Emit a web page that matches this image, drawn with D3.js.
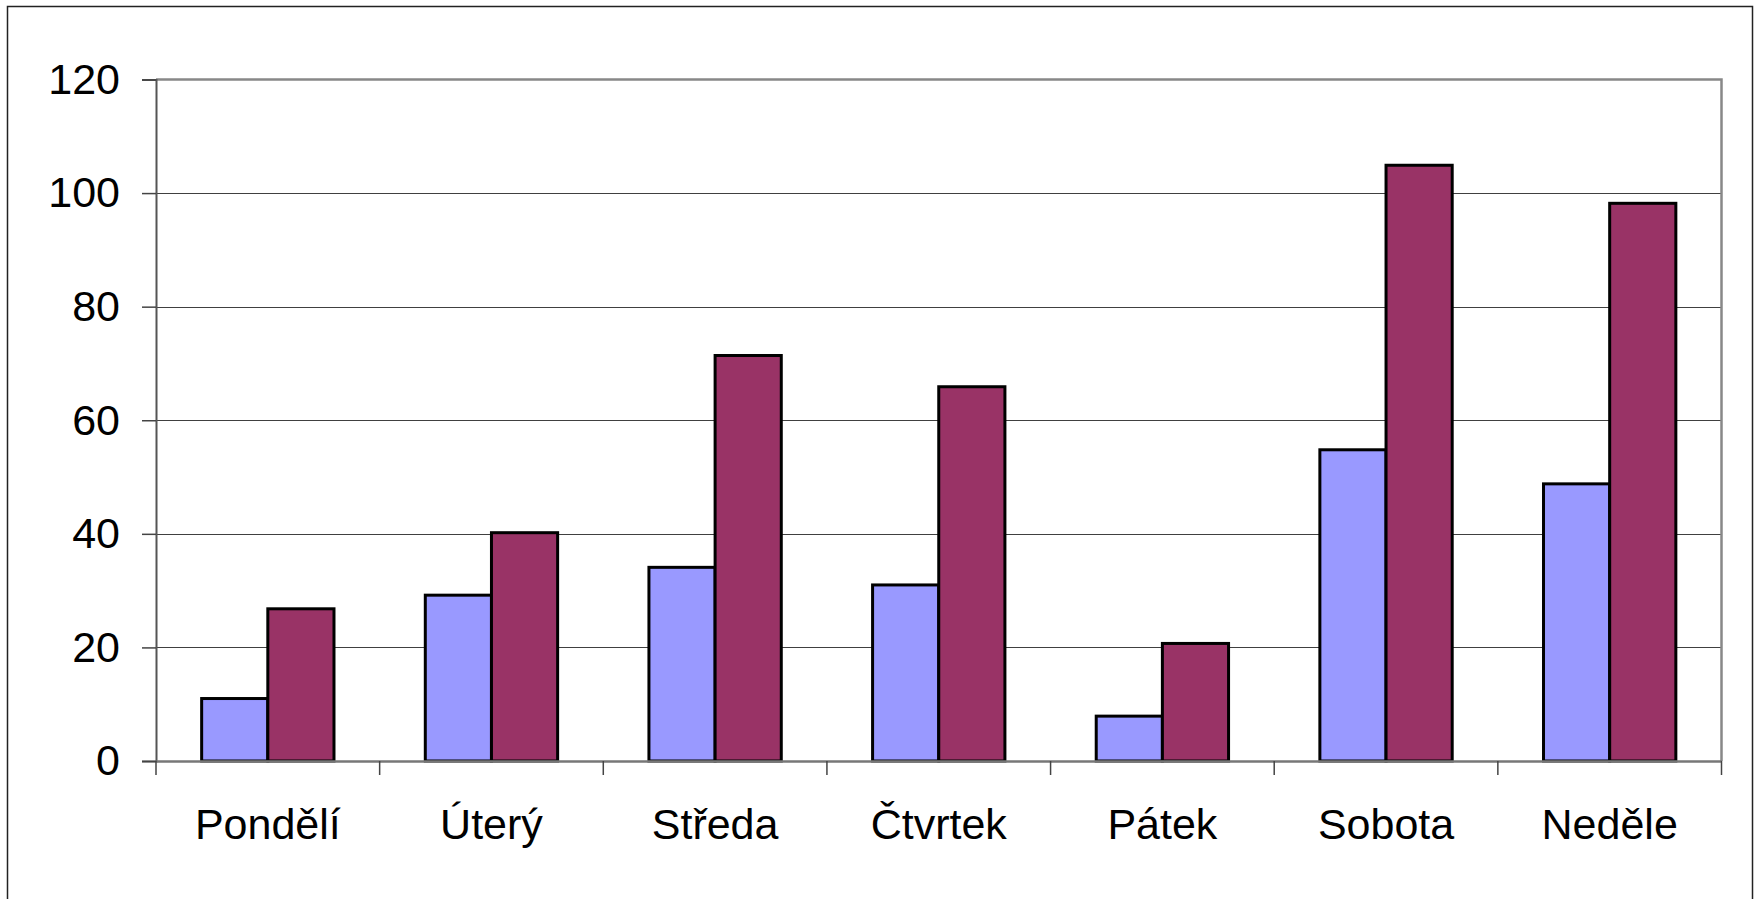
<!DOCTYPE html>
<html>
<head>
<meta charset="utf-8">
<script src="https://cdn.jsdelivr.net/npm/d3@7"></script>
<style>
  body { margin: 0; background: #fff; }
  text { font-family: "Liberation Sans", Arial, sans-serif; font-size: 43px; fill: #000; }
  .grid line { stroke: #404040; stroke-width: 1; }
  .bar { stroke: #000; stroke-width: 3; }
</style>
</head>
<body>
<svg id="chart"></svg>
<script>
var width = 1759,
    height = 899;

var days = ["Pondělí", "Úterý", "Středa", "Čtvrtek", "Pátek", "Sobota", "Neděle"];
var series1 = [11, 29.2, 34.1, 31, 7.9, 54.8, 48.8];
var series2 = [26.8, 40.2, 71.4, 65.9, 20.7, 104.9, 98.2];
var yTicks = [0, 20, 40, 60, 80, 100, 120];
var colors = ["#9999ff", "#993366"];

var plotLeft = 156, plotRight = 1721.5, plotTop = 79.5, plotBottom = 761;

var x = d3.scaleBand()
          .domain(days)
          .range([plotLeft, plotRight])
          .padding(0);

var xs = d3.scaleBand()
           .domain([0, 1])
           .range([0, x.bandwidth()])
           .paddingInner(0)
           .paddingOuter(0.69);

var y = d3.scaleLinear()
          .domain([0, 120])
          .range([plotBottom, plotTop]);

var chart = d3.select("#chart")
              .attr("width", width)
              .attr("height", height);

// outer frame (bottom edge runs off the picture)
chart.append("rect")
     .attr("x", 7.5).attr("y", 6.5)
     .attr("width", 1745).attr("height", 900)
     .attr("fill", "none")
     .attr("stroke", "#222")
     .attr("stroke-width", 1.5);

// gridlines
chart.append("g")
     .attr("class", "grid")
     .selectAll("line")
     .data(yTicks.filter(function(d) { return d > 0 && d < 120; }))
     .enter().append("line")
       .attr("x1", plotLeft).attr("x2", plotRight)
       .attr("y1", function(d) { return Math.round(y(d)) + 0.5; })
       .attr("y2", function(d) { return Math.round(y(d)) + 0.5; });

// plot area top and right edges
chart.append("path")
     .attr("d", "M" + plotLeft + "," + plotTop + "H" + plotRight + "V" + plotBottom)
     .attr("fill", "none")
     .attr("stroke", "#888")
     .attr("stroke-width", 2.5);

// bars
var rows = days.map(function(d, i) { return { day: d, values: [series1[i], series2[i]] }; });

var group = chart.selectAll("g.day")
                 .data(rows)
               .enter().append("g")
                 .attr("class", "day")
                 .attr("transform", function(d) { return "translate(" + x(d.day) + ",0)"; });

group.selectAll("rect")
     .data(function(d) { return d.values.map(function(v, k) { return { k: k, v: v }; }); })
     .enter().append("rect")
       .attr("class", "bar")
       .attr("x", function(d) { return xs(d.k); })
       .attr("width", xs.bandwidth())
       .attr("y", function(d) { return y(d.v); })
       .attr("height", function(d) { return y(0) - y(d.v); })
       .attr("fill", function(d) { return colors[d.k]; });

// y axis
var yAxis = d3.axisLeft(y)
              .tickValues(yTicks)
              .tickSize(14)
              .tickPadding(22);

var gy = chart.append("g")
              .attr("transform", "translate(" + plotLeft + ",0)")
              .call(yAxis);
gy.select(".domain").attr("stroke", "#555").attr("stroke-width", 2);
gy.selectAll(".tick line").attr("stroke", "#444").attr("stroke-width", 1.5);
gy.selectAll("text").attr("font-size", null).attr("font-family", null);

// x axis: ticks between categories
var xAxis = d3.axisBottom(x).tickSize(0).tickPadding(47);

var gx = chart.append("g")
              .attr("transform", "translate(0," + plotBottom + ")")
              .call(xAxis);
gx.select(".domain").attr("stroke", "#777").attr("stroke-width", 2.5);
gx.selectAll("text").attr("font-size", null).attr("font-family", null);

gx.selectAll("line.sep")
  .data(days.map(function(d) { return x(d); }).concat([plotRight]))
  .enter().append("line")
    .attr("class", "sep")
    .attr("x1", function(d) { return d; })
    .attr("x2", function(d) { return d; })
    .attr("y1", 0).attr("y2", 14)
    .attr("stroke", "#444")
    .attr("stroke-width", 1.5);
</script>
</body>
</html>
